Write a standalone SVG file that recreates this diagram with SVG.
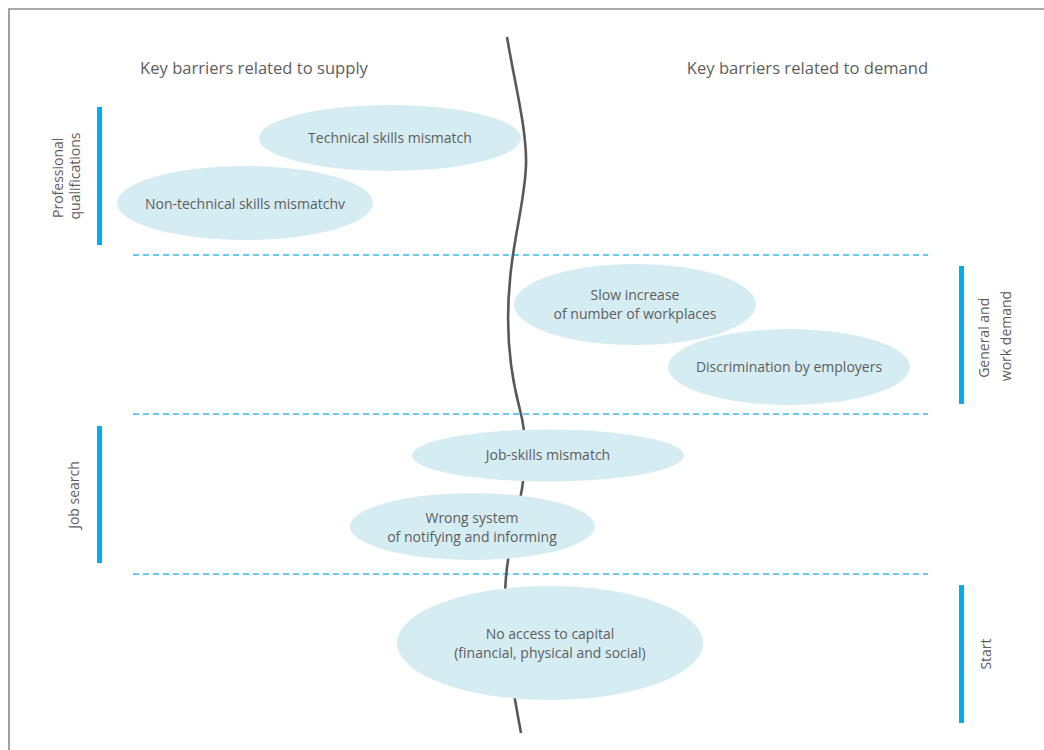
<svg xmlns="http://www.w3.org/2000/svg" width="1044" height="750" viewBox="0 0 1044 750">
  <style>
    .frame { fill: none; stroke: #8c8c8c; stroke-width: 1.6; }
    .sep { fill: none; stroke: #3cb9ec; stroke-width: 1.5; stroke-dasharray: 6 4; }
    .bar { fill: #00aeef; }
    .bubble { fill: #d5ecf2; }
    .divider { fill: none; stroke: #58585a; stroke-width: 2.6; stroke-linecap: butt; }
    text { font-family: "Open Sans", "Noto Sans", "Liberation Sans", sans-serif; fill: #5e5e60; }
    .head { font-size: 16.6px; text-anchor: middle; }
    .lbl { font-size: 14px; text-anchor: middle; }
    .side { font-size: 14px; text-anchor: middle; }
  </style>

  <rect width="1044" height="750" fill="#ffffff"/>

  <!-- page frame: top and left rules -->
  <path class="frame" d="M9,750 V9 H1044"/>

  <!-- column headings -->
  <text class="head" x="254" y="74">Key barriers related to supply</text>
  <text class="head" x="807.5" y="74">Key barriers related to demand</text>

  <!-- dashed band separators -->
  <g id="separators">
    <line class="sep" x1="133" y1="255" x2="928" y2="255"/>
    <line class="sep" x1="133" y1="414" x2="928" y2="414"/>
    <line class="sep" x1="133" y1="574" x2="928" y2="574"/>
  </g>

  <!-- side categories -->
  <g id="cat-professional">
    <rect class="bar" x="97" y="107" width="5" height="138"/>
    <text class="side" transform="translate(62.5,176) rotate(-90)">
      <tspan x="0" y="0">Professional</tspan>
      <tspan x="0" y="17">qualifications</tspan>
    </text>
  </g>
  <g id="cat-jobsearch">
    <rect class="bar" x="97" y="426" width="5" height="137"/>
    <text class="side" transform="translate(79,495) rotate(-90)">Job search</text>
  </g>
  <g id="cat-demand">
    <rect class="bar" x="959" y="266" width="5" height="138"/>
    <text class="side" transform="translate(989,336) rotate(-90)">
      <tspan x="0" y="0">General and</tspan>
      <tspan x="0" y="22">work demand</tspan>
    </text>
  </g>
  <g id="cat-start">
    <rect class="bar" x="959" y="585" width="5" height="138"/>
    <text class="side" transform="translate(990.5,654) rotate(-90)">Start</text>
  </g>

  <!-- wavy supply/demand divide -->
  <g id="connectors">
    <path class="divider" d="M507,37 C515,85 527,130 526,165 C525,200 513,240 510,280 C506,320 508,365 520,410 C528,440 526,470 520,500 C514,530 505,560 505,600 C505,650 515,700 521,733"/>
  </g>

  <!-- barrier bubbles -->
  <g id="technical-skills">
    <ellipse class="bubble" cx="390" cy="138" rx="131" ry="33"/>
    <text class="lbl" x="390" y="143">Technical skills mismatch</text>
  </g>
  <g id="non-technical-skills">
    <ellipse class="bubble" cx="245" cy="203" rx="128" ry="37"/>
    <text class="lbl" x="245" y="208.5">Non-technical skills mismatchv</text>
  </g>
  <g id="slow-increase">
    <ellipse class="bubble" cx="635" cy="304.5" rx="121" ry="40.5"/>
    <text class="lbl" x="635" y="300">Slow increase</text>
    <text class="lbl" x="635" y="318.5">of number of workplaces</text>
  </g>
  <g id="discrimination">
    <ellipse class="bubble" cx="789" cy="367" rx="121" ry="38"/>
    <text class="lbl" x="789" y="371.5">Discrimination by employers</text>
  </g>
  <g id="job-skills">
    <ellipse class="bubble" cx="548" cy="455.5" rx="136" ry="26"/>
    <text class="lbl" x="548" y="460">Job-skills mismatch</text>
  </g>
  <g id="wrong-system">
    <ellipse class="bubble" cx="472.5" cy="526.5" rx="122.5" ry="33.5"/>
    <text class="lbl" x="472" y="522.5">Wrong system</text>
    <text class="lbl" x="472" y="541.5">of notifying and informing</text>
  </g>
  <g id="no-access">
    <ellipse class="bubble" cx="550" cy="643" rx="153" ry="57"/>
    <text class="lbl" x="550" y="639">No access to capital</text>
    <text class="lbl" x="550" y="657.5">(financial, physical and social)</text>
  </g>
</svg>
